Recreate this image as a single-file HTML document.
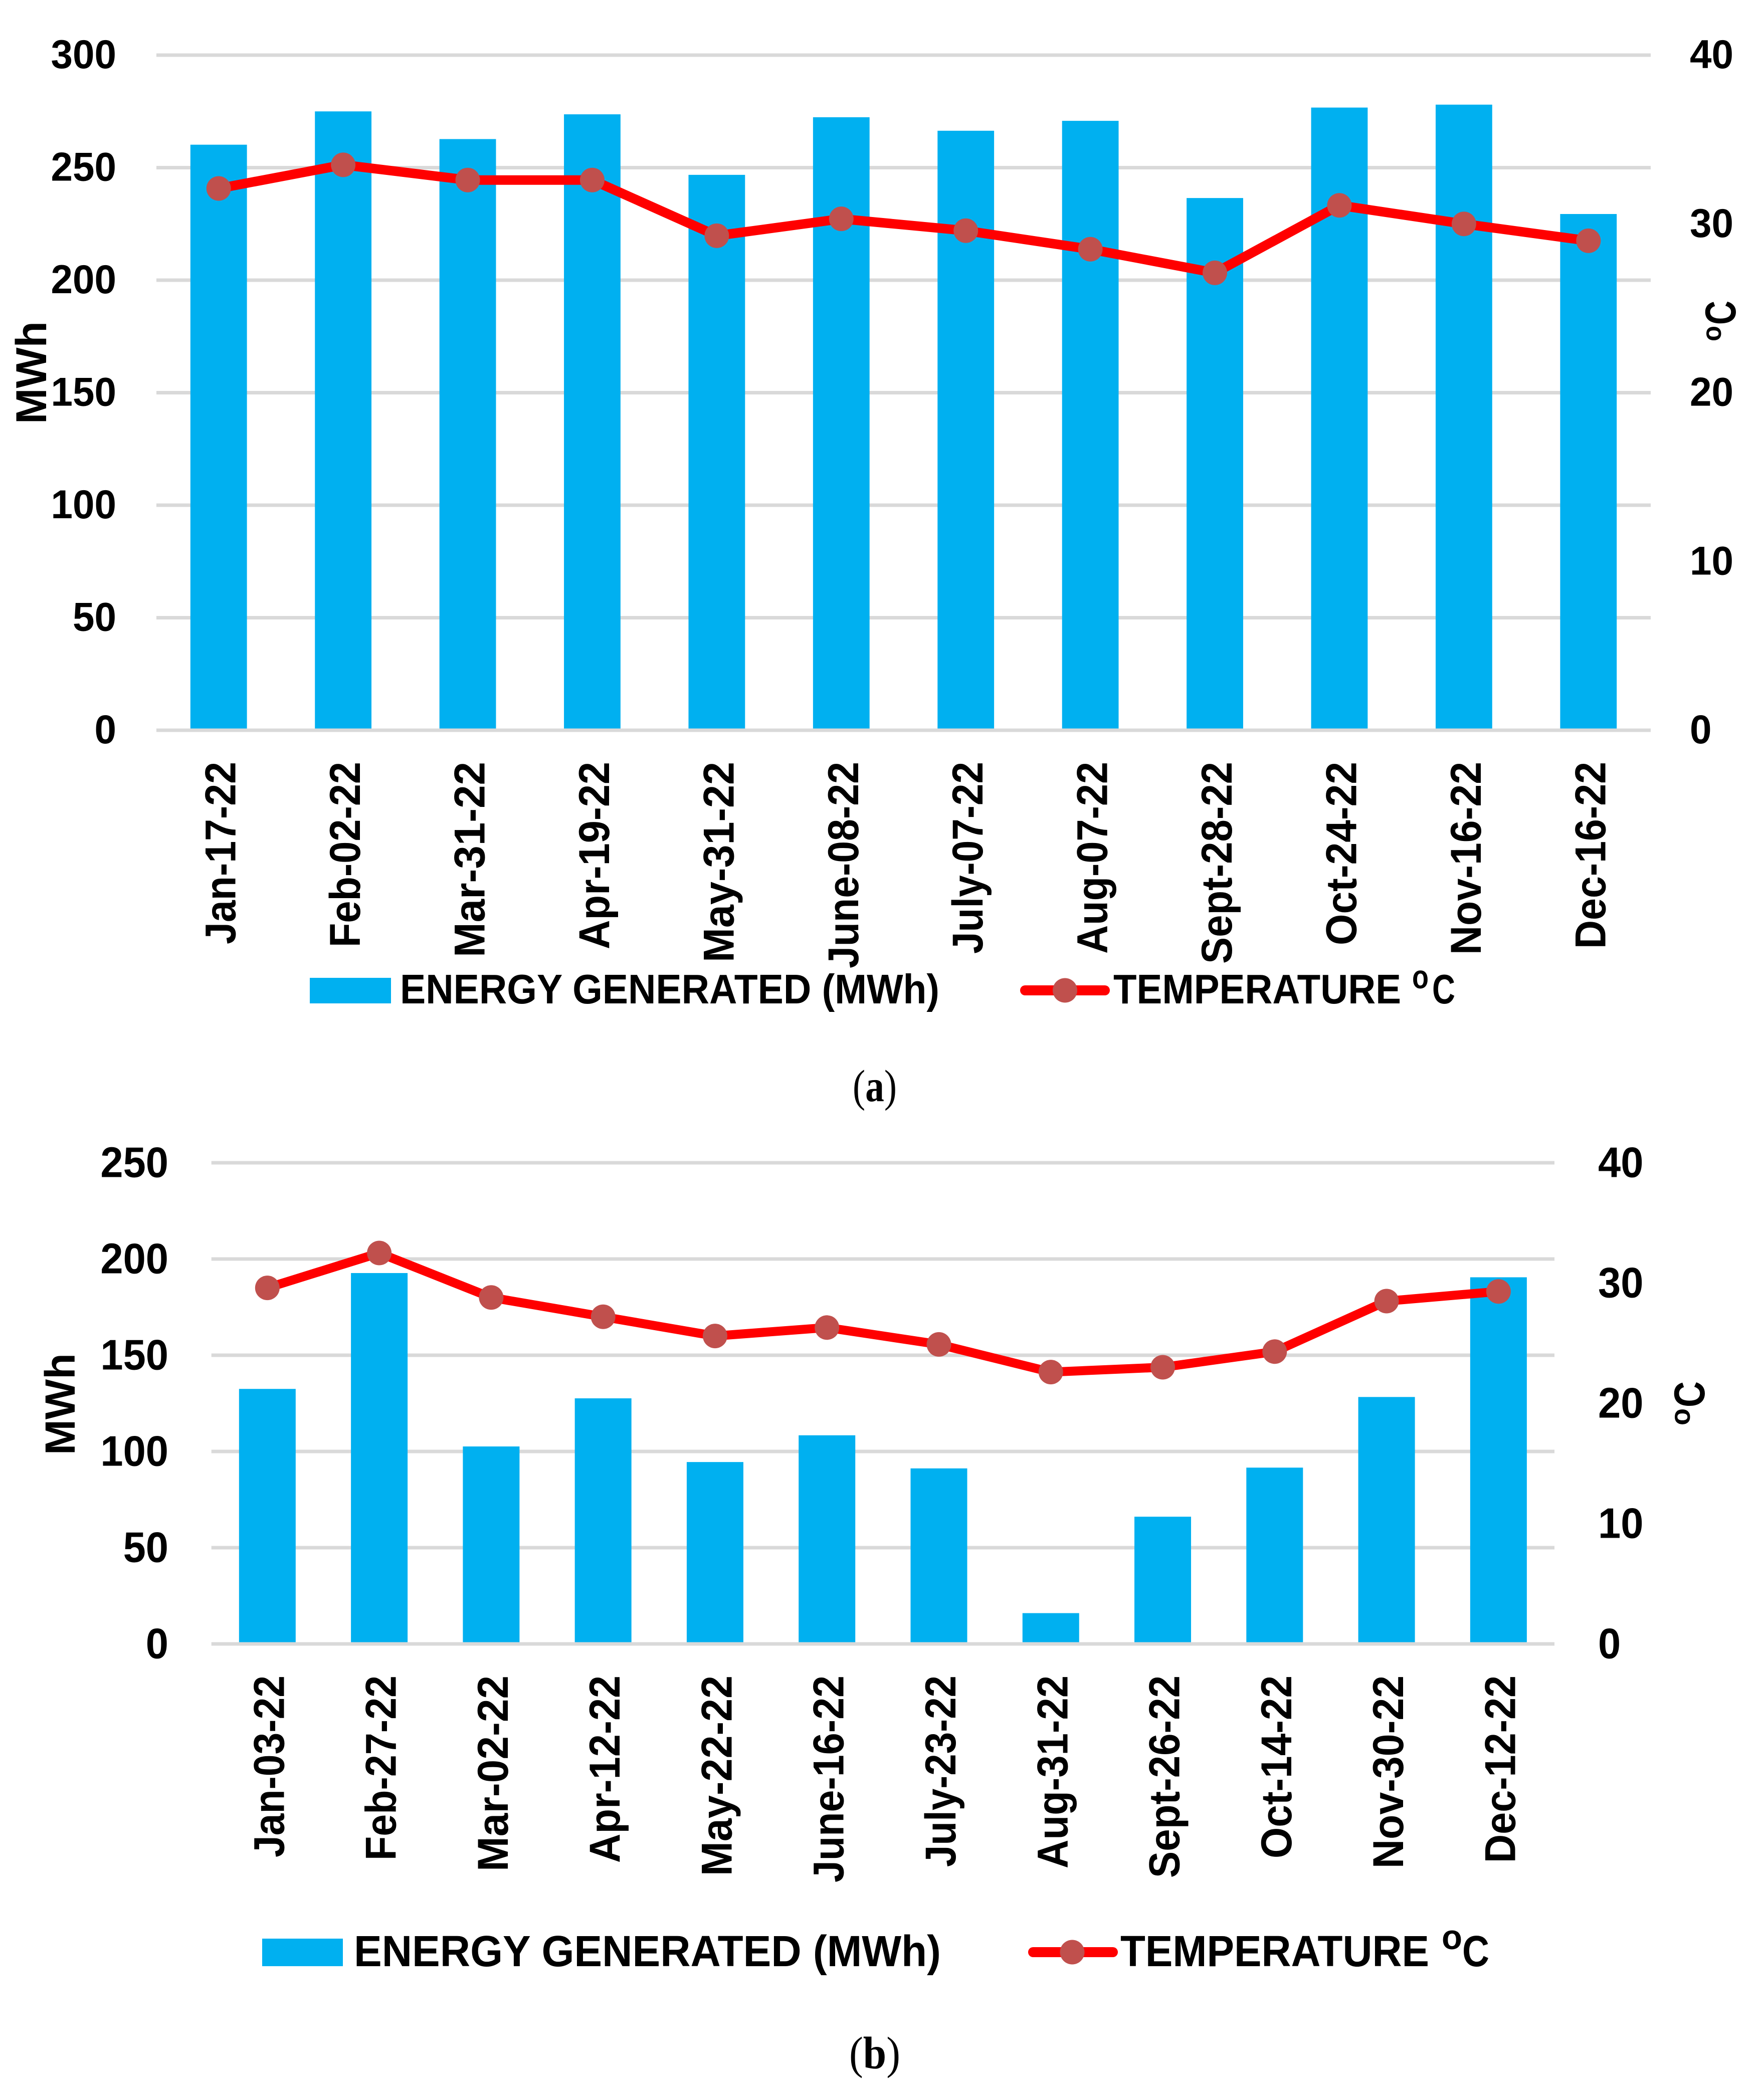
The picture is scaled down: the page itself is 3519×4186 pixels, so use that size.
<!DOCTYPE html>
<html lang="en">
<head>
<meta charset="utf-8">
<title>Energy generated and temperature charts</title>
<style>
html,body{margin:0;padding:0;background:#fff;}
svg{display:block;}
text{font-family:"Liberation Sans",sans-serif;font-weight:bold;fill:#000;}
.cap{font-family:"Liberation Serif",serif;font-weight:normal;}
</style>
</head>
<body>
<svg id="figure" xmlns="http://www.w3.org/2000/svg" width="3519" height="4186" viewBox="0 0 3519 4186">
  <rect x="0" y="0" width="3519" height="4186" fill="#ffffff"/>
  <g id="chart-a"></g>
  <g id="chart-b"></g>

  <!-- chart (a) titles, legend, caption -->
  <text transform="translate(92,846) rotate(-90)" font-size="86" textLength="205" lengthAdjust="spacingAndGlyphs">MWh</text>
  <text transform="translate(3433,681) rotate(-90)" font-size="54" textLength="31" lengthAdjust="spacingAndGlyphs">o</text>
  <text transform="translate(3462,648) rotate(-90)" font-size="86" textLength="48" lengthAdjust="spacingAndGlyphs">C</text>
  <g>
    <rect x="618" y="1951" width="162" height="51" fill="#00B0F0"/>
    <text x="798" y="2002" font-size="83" textLength="1076" lengthAdjust="spacingAndGlyphs">ENERGY GENERATED (MWh)</text>
    <line x1="2045" y1="1976" x2="2204" y2="1976" stroke="#FF0000" stroke-width="20" stroke-linecap="round"/>
    <circle cx="2124.5" cy="1976" r="24.5" fill="#C0504D"/>
    <text x="2221" y="2002" font-size="83" textLength="574" lengthAdjust="spacingAndGlyphs">TEMPERATURE</text>
    <text x="2817" y="1972" font-size="66" textLength="33" lengthAdjust="spacingAndGlyphs">o</text>
    <text x="2857" y="2002" font-size="83" textLength="46" lengthAdjust="spacingAndGlyphs">C</text>
  </g>
  <text class="cap" x="1701" y="2197" font-size="90" textLength="88" lengthAdjust="spacingAndGlyphs">(<tspan font-weight="bold">a</tspan>)</text>

  <!-- chart (b) titles, legend, caption -->
  <text transform="translate(149,2903) rotate(-90)" font-size="84" textLength="203" lengthAdjust="spacingAndGlyphs">MWh</text>
  <text transform="translate(3371,2844) rotate(-90)" font-size="56" textLength="34" lengthAdjust="spacingAndGlyphs">o</text>
  <text transform="translate(3400,2808) rotate(-90)" font-size="86" textLength="52" lengthAdjust="spacingAndGlyphs">C</text>
  <g>
    <rect x="523" y="3868" width="161" height="55" fill="#00B0F0"/>
    <text x="706" y="3923" font-size="87" textLength="1171" lengthAdjust="spacingAndGlyphs">ENERGY GENERATED (MWh)</text>
    <line x1="2061" y1="3895" x2="2220" y2="3895" stroke="#FF0000" stroke-width="20" stroke-linecap="round"/>
    <circle cx="2139" cy="3895" r="24.5" fill="#C0504D"/>
    <text x="2235" y="3923" font-size="87" textLength="616" lengthAdjust="spacingAndGlyphs">TEMPERATURE</text>
    <text x="2876" y="3889" font-size="70" textLength="41" lengthAdjust="spacingAndGlyphs">o</text>
    <text x="2917" y="3923" font-size="87" textLength="54" lengthAdjust="spacingAndGlyphs">C</text>
  </g>
  <text class="cap" x="1694" y="4127" font-size="91" textLength="102" lengthAdjust="spacingAndGlyphs">(<tspan font-weight="bold">b</tspan>)</text>
</svg>

<script>
const categoriesA = ["Jan-17-22","Feb-02-22","Mar-31-22","Apr-19-22","May-31-22","June-08-22","July-07-22","Aug-07-22","Sept-28-22","Oct-24-22","Nov-16-22","Dec-16-22"];
const energyA = [260.2, 275, 262.7, 273.7, 246.8, 272.4, 266.4, 270.8, 236.5, 276.7, 278, 229.4];
const temperatureA = [32.1, 33.5, 32.6, 32.6, 29.3, 30.3, 29.6, 28.5, 27.1, 31.1, 30.0, 29.0];
const leftTicksA = [0, 50, 100, 150, 200, 250, 300];
const rightTicksA = [0, 10, 20, 30, 40];

const categoriesB = ["Jan-03-22","Feb-27-22","Mar-02-22","Apr-12-22","May-22-22","June-16-22","July-23-22","Aug-31-22","Sept-26-22","Oct-14-22","Nov-30-22","Dec-12-22"];
const energyB = [132.5, 192.7, 102.6, 127.6, 94.5, 108.4, 91.2, 16, 66.1, 91.6, 128.3, 190.5];
const temperatureB = [29.6, 32.5, 28.8, 27.2, 25.6, 26.3, 24.9, 22.6, 23.0, 24.3, 28.5, 29.3];
const leftTicksB = [0, 50, 100, 150, 200, 250];
const rightTicksB = [0, 10, 20, 30, 40];

const layoutA = {
  suffix: "a", left: 312, right: 3293, top: 110, bottom: 1457,
  barWidth: 112.8, gridWidth: 7, lineWidth: 19, markerR: 24.5,
  tickFont: 81, digitWidth: 43.5, tickOffset: 26, leftTickX: 232, rightTickX: 3371,
  labelFont: 86, labelTop: 1520, labelOffset: 33.5,
  labelLengths: [364,370,390,374,400,412,383,383,403,366,385,373]
};
const layoutB = {
  suffix: "b", left: 421.7, right: 3101, top: 2320, bottom: 3280,
  barWidth: 113, gridWidth: 7, lineWidth: 18, markerR: 24.5,
  tickFont: 85, digitWidth: 45.2, tickOffset: 28.5, leftTickX: 336, rightTickX: 3188,
  labelFont: 86, labelTop: 3343, labelOffset: 33,
  labelLengths: [363,369,391,374,400,413,382,385,404,365,385,374]
};

const SVG_NS = "http://www.w3.org/2000/svg";
function make(parent, tag, attrs, content) {
  const el = document.createElementNS(SVG_NS, tag);
  for (const k in attrs) el.setAttribute(k, attrs[k]);
  if (content !== undefined) el.textContent = content;
  parent.appendChild(el);
  return el;
}

function drawChart(root, L, categories, energy, temperature, leftTicks, rightTicks) {
  const leftMax = Math.max.apply(null, leftTicks);
  const rightMax = Math.max.apply(null, rightTicks);
  const step = (L.right - L.left) / categories.length;
  const xAt = function (i) { return L.left + step * (i + 0.5); };
  const yLeft = function (v) { return L.bottom - (v / leftMax) * (L.bottom - L.top); };
  const yRight = function (v) { return L.bottom - (v / rightMax) * (L.bottom - L.top); };

  // gridlines (behind the bars)
  leftTicks.forEach(function (t) {
    if (t === 0) return;
    const el = make(root, "rect", {
      x: L.left, y: yLeft(t) - L.gridWidth / 2,
      width: L.right - L.left, height: L.gridWidth, fill: "#D9D9D9"
    });
    
    
  });

  // bars
  energy.forEach(function (v, i) {
    const y = yLeft(v);
    const el = make(root, "rect", {
      x: xAt(i) - L.barWidth / 2, y: y,
      width: L.barWidth, height: L.bottom - y, fill: "#00B0F0"
    });
    
    
  });

  // x axis line (over the bar feet)
  const axis = make(root, "rect", {
    x: L.left, y: L.bottom - L.gridWidth / 2,
    width: L.right - L.left, height: L.gridWidth, fill: "#D9D9D9"
  });
  
  

  // temperature line
  const pts = temperature.map(function (v, i) { return xAt(i) + "," + yRight(v); }).join(" ");
  const line = make(root, "polyline", {
    points: pts, fill: "none", stroke: "#FF0000",
    "stroke-width": L.lineWidth, "stroke-linejoin": "round"
  });
  
  

  // temperature markers
  temperature.forEach(function (v, i) {
    const dot = make(root, "circle", { cx: xAt(i), cy: yRight(v), r: L.markerR, fill: "#C0504D" });
    
    
  });

  // left ticks
  leftTicks.forEach(function (t) {
    const label = String(t);
    const el = make(root, "text", {
      x: L.leftTickX, y: yLeft(t) + L.tickOffset, "font-size": L.tickFont, "text-anchor": "end",
      textLength: label.length * L.digitWidth, lengthAdjust: "spacingAndGlyphs"
    }, label);
    
    
  });

  // right ticks
  rightTicks.forEach(function (t) {
    const label = String(t);
    const el = make(root, "text", {
      x: L.rightTickX, y: yRight(t) + L.tickOffset, "font-size": L.tickFont,
      textLength: label.length * L.digitWidth, lengthAdjust: "spacingAndGlyphs"
    }, label);
    
    
  });

  // category labels
  categories.forEach(function (c, i) {
    const el = make(root, "text", {
      transform: "translate(" + (xAt(i) + L.labelOffset) + "," + L.labelTop + ") rotate(-90)",
      "font-size": L.labelFont, "text-anchor": "end",
      textLength: L.labelLengths[i], lengthAdjust: "spacingAndGlyphs"
    }, c);
    
    
  });
}

drawChart(document.getElementById("chart-a"), layoutA, categoriesA, energyA, temperatureA, leftTicksA, rightTicksA);
drawChart(document.getElementById("chart-b"), layoutB, categoriesB, energyB, temperatureB, leftTicksB, rightTicksB);
</script>
</body>
</html>
